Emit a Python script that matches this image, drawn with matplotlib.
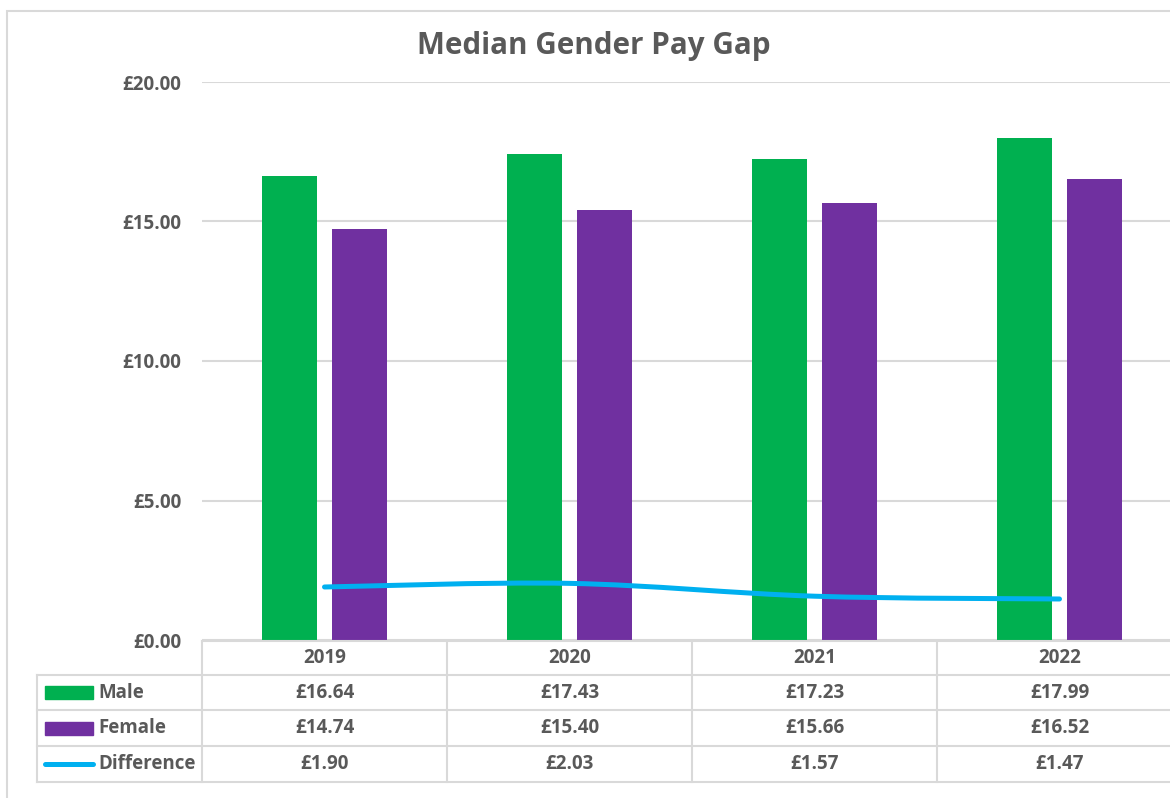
import matplotlib
matplotlib.use('Agg')
import matplotlib.pyplot as plt
from matplotlib.patches import Rectangle
from matplotlib.path import Path
from matplotlib.patches import PathPatch
from matplotlib.transforms import blended_transform_factory
from matplotlib.lines import Line2D

years = ['2019', '2020', '2021', '2022']
male = [16.64, 17.43, 17.23, 17.99]
female = [14.74, 15.40, 15.66, 16.52]
difference = [1.90, 2.03, 1.57, 1.47]
yticks = [0, 5, 10, 15, 20]

GREEN = '#00B050'
PURPLE = '#7030A0'
BLUE = '#00B0F0'
TEXT = '#595959'
GRID = '#D9D9D9'

plt.rcParams['font.family'] = ['Open Sans', 'DejaVu Sans']
plt.rcParams['font.weight'] = 'bold'
FS = 13.5

W, H = 1170, 798
fig = plt.figure(figsize=(W / 100, H / 100), dpi=100)

def fx(x):
    return x / W

def fy(y):
    return 1 - y / H

# chart border (cropped at right and bottom like the screenshot)
fig.patches.append(Rectangle((fx(7), fy(830)), fx(1200 - 7), fy(11) - fy(830),
                             transform=fig.transFigure, fill=False,
                             edgecolor=GRID, lw=1.5))

ax = fig.add_axes([fx(202), fy(640), fx(1182 - 202), fy(82) - fy(640)])
ax.set_xlim(0, 4)
ax.set_ylim(0, 20)
for s in ax.spines.values():
    s.set_visible(False)
ax.set_xticks([])
ax.set_yticks(yticks)
ax.set_yticklabels(['£%.2f' % v for v in yticks], color=TEXT, fontsize=FS,
                   fontweight='bold')
ax.tick_params(axis='y', length=0, pad=15)
ax.yaxis.grid(True, color=GRID, lw=1.5)
ax.set_axisbelow(True)

xs = [i + 0.5 for i in range(len(years))]
bw = 0.224
off = 0.142
ax.bar([x - off for x in xs], male, width=bw, color=GREEN, zorder=2)
ax.bar([x + off for x in xs], female, width=bw, color=PURPLE, zorder=2)

# smoothed line (Excel style) via Bezier segments through the data points
pts = list(zip(xs, difference))
verts = [pts[0]]
codes = [Path.MOVETO]
for i in range(len(pts) - 1):
    p0 = pts[i - 1] if i > 0 else pts[i]
    p1 = pts[i]
    p2 = pts[i + 1]
    p3 = pts[i + 2] if i + 2 < len(pts) else pts[i + 1]
    c1 = (p1[0] + (p2[0] - p0[0]) / 6, p1[1] + (p2[1] - p0[1]) / 6)
    c2 = (p2[0] - (p3[0] - p1[0]) / 6, p2[1] - (p3[1] - p1[1]) / 6)
    verts += [c1, c2, p2]
    codes += [Path.CURVE4] * 3
ax.add_patch(PathPatch(Path(verts, codes), fill=False, edgecolor=BLUE,
                       lw=3.6, capstyle='round', zorder=3))

fig.text(fx(594), fy(46), 'Median Gender Pay Gap', ha='center', va='center',
         fontsize=21.3, fontweight='bold', color=TEXT)

# data table below the axis
tr = blended_transform_factory(ax.transData, fig.transFigure)
rows = [640.5, 675, 710, 746, 782]
lw = 1.5
# header row
fig.add_artist(Line2D([0, 4.1], [fy(rows[0])] * 2, transform=tr, color=GRID, lw=lw))
for y in rows[1:]:
    fig.add_artist(Line2D([fx(37), 1.2], [fy(y)] * 2, transform=fig.transFigure,
                          color=GRID, lw=lw))
for x in range(5):
    fig.add_artist(Line2D([x, x], [fy(rows[0]), fy(rows[-1])], transform=tr,
                          color=GRID, lw=lw))
fig.add_artist(Line2D([fx(37), fx(37)], [fy(rows[1]), fy(rows[-1])],
                      transform=fig.transFigure, color=GRID, lw=lw))

centers = [(rows[i] + rows[i + 1]) / 2 for i in range(4)]
for x, yr in zip(xs, years):
    fig.text(x, fy(centers[0]), yr, transform=tr, ha='center', va='center',
             fontsize=FS, color=TEXT)
for r, series in enumerate([male, female, difference]):
    for x, v in zip(xs, series):
        fig.text(x, fy(centers[r + 1]), '£%.2f' % v, transform=tr, ha='center',
                 va='center', fontsize=FS, color=TEXT)

# legend keys in the left column
labels = ['Male', 'Female', 'Difference']
for r, lab in enumerate(labels):
    yc = centers[r + 1]
    if r < 2:
        fig.patches.append(Rectangle((fx(45), fy(yc + 6.5)), fx(48), fy(yc - 6.5) - fy(yc + 6.5),
                                     transform=fig.transFigure,
                                     color=[GREEN, PURPLE][r]))
    else:
        fig.add_artist(Line2D([fx(45), fx(93)], [fy(yc)] * 2, transform=fig.transFigure,
                              color=BLUE, lw=3.6, solid_capstyle='round'))
    fig.text(fx(98), fy(yc), lab, ha='left', va='center', fontsize=FS, color=TEXT)

fig.savefig('out.png', dpi=100, facecolor='white')
